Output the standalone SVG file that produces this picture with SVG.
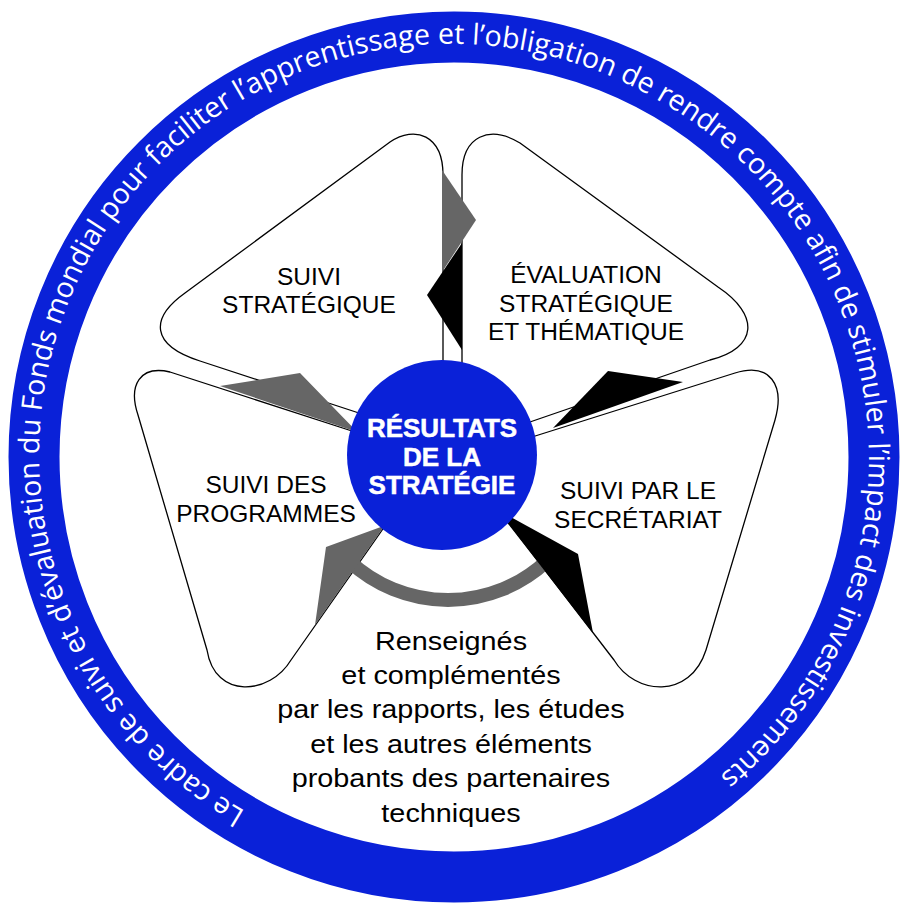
<svg xmlns="http://www.w3.org/2000/svg" xmlns:xlink="http://www.w3.org/1999/xlink" width="908" height="912" viewBox="0 0 908 912">
<style>
.petal{fill:#fff;stroke:#000;stroke-width:1.3;stroke-linejoin:round}
.lbl{font-family:"Liberation Sans",Arial,sans-serif;font-size:24.5px;fill:#000;text-anchor:middle}
.ctr{font-family:"Liberation Sans",Arial,sans-serif;font-size:26px;font-weight:bold;fill:#fff;stroke:#fff;stroke-width:0.5;text-anchor:middle}
.ringtxt{font-family:"Open Sans","Noto Sans",sans-serif;font-size:28.6px;fill:#fff}
.gray{fill:#666}
.blk{fill:#000}
</style>
<defs>
<path id="ringPath" d="M 245.4,811.1 A 411 411 0 1 1 662.6,102.9 A 411 411 0 1 1 245.4,811.1"/>
</defs>
<rect width="908" height="912" fill="#fff"/>
<g id="ring">
<circle cx="454" cy="457" r="420" fill="none" stroke="#0a21d8" stroke-width="51"/>
<text class="ringtxt"><textPath xlink:href="#ringPath" href="#ringPath" textLength="2093" lengthAdjust="spacing">Le cadre de suivi et d’évaluation du Fonds mondial pour faciliter l’apprentissage et l’obligation de rendre compte afin de stimuler l’impact des investissements</textPath></text>
</g>
<g id="petal-suivi-strategique">
<path class="petal" d="M 443,372 L 443,175 C 443,135 415,125 390,142 L 185,293 C 150,318 150,345 200,361 L 365,415 Z"/>
<text class="lbl" x="309" y="285">SUIVI</text>
<text class="lbl" x="309" y="313">STRATÉGIQUE</text>
</g>
<g id="petal-evaluation">
<path class="petal" d="M 462,372 L 462,175 C 462,135 490,125 520,143 L 718,287 C 760,315 758,348 710,360 L 527,423 Z"/>
<text class="lbl" x="586" y="283">ÉVALUATION</text>
<text class="lbl" x="586" y="312">STRATÉGIQUE</text>
<text class="lbl" x="586" y="340">ET THÉMATIQUE</text>
</g>
<g id="petal-suivi-programmes">
<path class="petal" d="M 392,516 L 291,660 C 270,695 215,700 207,650 L 138,415 C 128,385 140,365 170,372 L 355,432 Z"/>
<text class="lbl" x="266" y="493">SUIVI DES</text>
<text class="lbl" x="266" y="522">PROGRAMMES</text>
</g>
<g id="petal-suivi-secretariat">
<path class="petal" d="M 505,518 L 614,660 C 635,695 690,700 706,650 L 775,420 C 785,385 770,362 735,373 L 532,437 Z"/>
<text class="lbl" x="638" y="499">SUIVI PAR LE</text>
<text class="lbl" x="638" y="528">SECRÉTARIAT</text>
</g>
<g id="connectors">
<path d="M 349.1,561 A 145 145 0 0 0 546.9,561" fill="none" stroke="#666" stroke-width="14"/>
<polygon class="gray" points="442,170 476,220 442,272"/>
<polygon class="blk" points="462,243 427,295 462,350"/>
<polygon class="gray" points="220,386 300,373 365,440 360,433"/>
<polygon class="blk" points="608,371 683,382 553,428"/>
<polygon class="blk" points="498,510 578,554 593,633 505,520"/>
<polygon class="gray" points="326,547 315,625 390,518 400,520"/>
</g>
<g id="center">
<circle cx="442" cy="455" r="95" fill="#0a21d8"/>
<text class="ctr" x="442" y="437">RÉSULTATS</text>
<text class="ctr" x="442" y="466">DE LA</text>
<text class="ctr" x="442" y="494">STRATÉGIE</text>
</g>
<g id="note">
<g class="lbl" style="font-size:25.5px">
<text transform="translate(451,650) scale(1.13,1)">Renseignés</text>
<text transform="translate(451,684) scale(1.13,1)">et complémentés</text>
<text transform="translate(451,718) scale(1.13,1)">par les rapports, les études</text>
<text transform="translate(451,753) scale(1.13,1)">et les autres éléments</text>
<text transform="translate(451,787) scale(1.13,1)">probants des partenaires</text>
<text transform="translate(451,822) scale(1.13,1)">techniques</text>
</g>
</g>
</svg>
